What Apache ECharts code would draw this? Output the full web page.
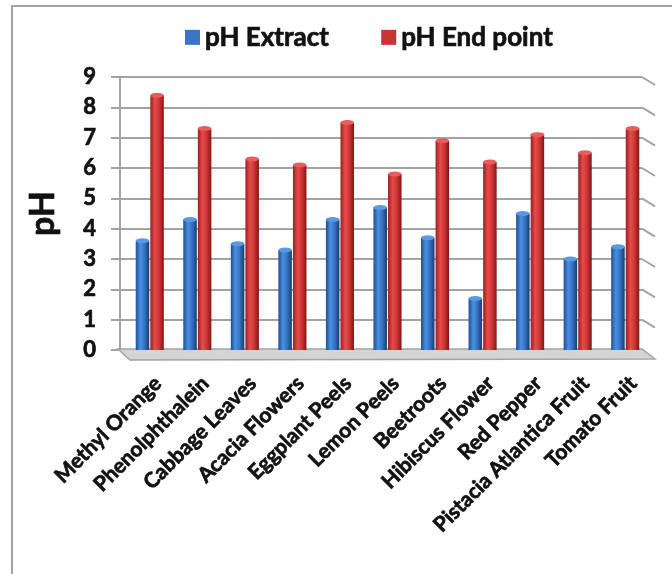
<!DOCTYPE html>
<html>
<head>
<meta charset="utf-8">
<script src="https://cdn.jsdelivr.net/npm/echarts@6/dist/echarts.min.js"></script>
<style>
  html, body { margin: 0; padding: 0; background: #fff; }
  #chart { width: 672px; height: 574px; }
</style>
</head>
<body>
<div id="chart"></div>
<script>
const categories = ['Methyl Orange', 'Phenolphthalein', 'Cabbage Leaves', 'Acacia Flowers', 'Eggplant Peels',
    'Lemon Peels', 'Beetroots', 'Hibiscus Flower', 'Red Pepper', 'Pistacia Atlantica Fruit', 'Tomato Fruit'];
const phExtract = [3.6, 4.3, 3.5, 3.3, 4.3, 4.7, 3.7, 1.7, 4.5, 3.0, 3.4];
const phEndPoint = [8.4, 7.3, 6.3, 6.1, 7.5, 5.8, 6.9, 6.2, 7.1, 6.5, 7.3];
const yTicks = [0, 1, 2, 3, 4, 5, 6, 7, 8, 9];

const font = 'Lato, "Open Sans", sans-serif';
const gray = '#a3a3a3';
const ink = '#111';
// a thin outline of the same colour makes Lato bold look as heavy as the original
const heavy = { fontFamily: font, fontWeight: 'bold', color: ink, textBorderColor: ink, textBorderWidth: 0.7 };

const chart = echarts.init(document.getElementById('chart'));

const cylinder = (c0, c1, c2, c3) => new echarts.graphic.LinearGradient(0, 0, 1, 0, [
    { offset: 0, color: c0 },
    { offset: 0.35, color: c1 },
    { offset: 0.65, color: c2 },
    { offset: 1, color: c3 }
]);
const blue = cylinder('#1f4f92', '#4a8fe2', '#3672c2', '#1a3c70');
const red = cylinder('#a01e1e', '#e64c4c', '#cf3535', '#801616');

const barW = 13.5;

const option = {
    backgroundColor: '#fff',
    animation: false,
    legend: {
        data: [
            { name: 'pH Extract', itemStyle: { color: '#3a74c4' } },
            { name: 'pH End point', itemStyle: { color: '#c83434' } }
        ],
        left: 180,
        top: 19,
        icon: 'rect',
        itemWidth: 15,
        itemHeight: 15,
        itemGap: 52,
        textStyle: { ...heavy, fontSize: 26 }
    },
    grid: [
        { left: 120, right: 30, top: 77, bottom: 224 },
        { left: 126, right: 23, top: 77, bottom: 224 },
        { left: 134, right: 15, top: 77, bottom: 224 }
    ],
    xAxis: [
        { gridIndex: 0, type: 'value', show: false },
        {
            gridIndex: 1,
            type: 'category',
            data: categories,
            axisLine: { show: false },
            axisTick: { show: false },
            axisLabel: { show: false }
        },
        {
            gridIndex: 2,
            type: 'category',
            data: categories,
            axisLine: { show: false },
            axisTick: { show: false },
            axisLabel: { ...heavy, interval: 0, rotate: 45, margin: 30, fontSize: 21 }
        }
    ],
    yAxis: [
        {
            gridIndex: 0,
            type: 'value',
            min: 0,
            max: 9,
            interval: 1,
            name: 'pH',
            nameLocation: 'middle',
            nameGap: 60,
            nameRotate: 90,
            nameTextStyle: { ...heavy, fontSize: 34 },
            axisLine: { show: true, lineStyle: { color: gray, width: 2 } },
            axisTick: { show: true, length: 9, lineStyle: { color: gray, width: 2 } },
            axisLabel: {
                ...heavy,
                margin: 24,
                fontSize: 22,
                formatter: v => (yTicks.includes(v) ? String(v) : '')
            },
            splitLine: { show: true, lineStyle: { color: gray, width: 2 } }
        },
        { gridIndex: 1, type: 'value', min: 0, max: 9, interval: 1, show: false },
        { gridIndex: 2, type: 'value', min: 0, max: 9, interval: 1, show: false }
    ],
    series: [
        {
            name: 'pH Extract',
            type: 'bar',
            xAxisIndex: 1,
            yAxisIndex: 1,
            barWidth: barW,
            barGap: '8%',
            itemStyle: { color: blue },
            data: phExtract,
            z: 3
        },
        {
            name: 'pH End point',
            type: 'bar',
            xAxisIndex: 1,
            yAxisIndex: 1,
            barWidth: barW,
            barGap: '8%',
            itemStyle: { color: red },
            data: phEndPoint,
            z: 3
        },
        {
            name: 'capExtract',
            type: 'pictorialBar',
            xAxisIndex: 1,
            yAxisIndex: 1,
            symbol: 'circle',
            symbolSize: [barW, 5],
            symbolPosition: 'end',
            symbolOffset: [0, '-50%'],
            barWidth: barW,
            barGap: '8%',
            itemStyle: { color: '#5b98e2' },
            data: phExtract,
            z: 4
        },
        {
            name: 'capEnd',
            type: 'pictorialBar',
            xAxisIndex: 1,
            yAxisIndex: 1,
            symbol: 'circle',
            symbolSize: [barW, 5],
            symbolPosition: 'end',
            symbolOffset: [0, '-50%'],
            barWidth: barW,
            barGap: '8%',
            itemStyle: { color: '#e85c5c' },
            data: phEndPoint,
            z: 4
        }
    ]
};

chart.setOption(option);

// 3D-look decorations: floor and side-wall edges, placed from the axis scale
const rect = chart.getModel().getComponent('grid', 0).coordinateSystem.getRect();
const left = rect.x, right = rect.x + rect.width;
const graphics = [
    {
        type: 'rect',
        shape: { x: 12, y: 6, width: 672, height: 600 },
        style: { fill: 'none', stroke: gray, lineWidth: 2 },
        z: 0
    }
];
yTicks.forEach(v => {
    const y = chart.convertToPixel({ yAxisIndex: 0 }, v);
    if (v > 0) {
        graphics.push({
            type: 'line',
            shape: { x1: right, y1: y, x2: right + 13, y2: y + 8 },
            style: { stroke: gray, lineWidth: 2 },
            z: 1
        });
    }
});
const yb = chart.convertToPixel({ yAxisIndex: 0 }, 0);
graphics.push({
    type: 'polygon',
    shape: { points: [[left - 2, yb - 1], [right, yb - 1], [right + 13, yb + 9], [left + 10, yb + 10]] },
    style: { fill: '#d4d4d4', stroke: gray, lineWidth: 1.5 },
    z: 1
});
chart.setOption({ graphic: graphics });
</script>
</body>
</html>
